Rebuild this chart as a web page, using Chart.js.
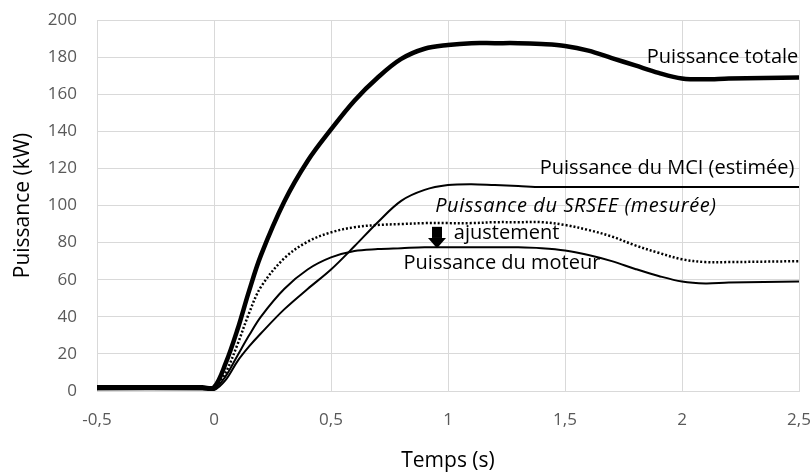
<!DOCTYPE html>
<html lang="fr">
<head>
<meta charset="utf-8">
<script src="https://cdn.jsdelivr.net/npm/chart.js@4/dist/chart.umd.min.js"></script>
<style>
  html, body { margin: 0; padding: 0; background: #fff; }
</style>
</head>
<body>
<canvas id="puissanceChart" width="812" height="475"></canvas>
<script>
// Temps (s) et puissances (kW)
const temps = [-0.5, -0.05, 0, 0.05, 0.1, 0.15, 0.2, 0.3, 0.4, 0.5, 0.6, 0.7, 0.8, 0.9, 1.0, 1.1, 1.2, 1.3, 1.4, 1.5, 1.6, 1.7, 1.8, 1.9, 2.0, 2.1, 2.2, 2.5];
const puissanceTotale = [2, 2, 2, 15, 33, 54, 73, 102, 124, 141, 156.5, 169, 179, 184.5, 186.5, 187.5, 187.5, 187.5, 187, 186, 183.5, 179.5, 175.5, 171.5, 168.5, 168, 168.5, 169];
const puissanceMCI = [1, 1, 0.5, 6, 16, 24, 31, 44, 55, 65.5, 78, 91, 102.5, 108.4, 111, 111.5, 111, 110.5, 110, 110, 110, 110, 110, 110, 110, 110, 110, 110];
const puissanceSRSEE = [1.5, 1.5, 1.5, 10, 25, 42, 56, 71.5, 80.5, 85.5, 88.3, 89.5, 90, 90.5, 90.5, 90.5, 91, 91, 91, 89.5, 86.8, 83.3, 78.5, 74.5, 71, 69.5, 69.5, 70];
const puissanceMoteur = [1, 1, 1, 8, 19, 30, 40, 55, 65.5, 72, 75.5, 76.5, 77, 77.5, 77.5, 77.5, 77.5, 77.5, 77, 75.8, 73.3, 70, 65.8, 62, 59, 58, 58.5, 59];

const xTicks = [-0.5, 0, 0.5, 1, 1.5, 2, 2.5];
const yTicks = [0, 20, 40, 60, 80, 100, 120, 140, 160, 180, 200];

// Étiquettes placées dans le graphique (coordonnées en unités des axes)
const etiquettes = [
    { texte: 'Puissance totale', t: 2.497, p: 180, align: 'right', italique: false },
    { texte: 'Puissance du MCI (estimée)', t: 2.48, p: 120, align: 'right', italique: false },
    { texte: 'Puissance du SRSEE (mesurée)', t: 0.945, p: 99.5, align: 'left', italique: true },
    { texte: 'ajustement', t: 1.025, p: 85, align: 'left', italique: false },
    { texte: 'Puissance du moteur', t: 0.81, p: 69, align: 'left', italique: false }
];

const points = serie => temps.map((t, i) => ({ x: t, y: serie[i] }));
const virgule = v => String(v).replace('.', ',');

const gris = '#d9d9d9';
const police = '"Open Sans", "Noto Sans", sans-serif';

const annotations = {
    id: 'annotations',
    afterDatasetsDraw(chart) {
        const { ctx, scales: { x, y } } = chart;
        ctx.save();
        ctx.fillStyle = '#000';
        ctx.textBaseline = 'middle';
        etiquettes.forEach(e => {
            ctx.font = (e.italique ? 'italic ' : '') + '20px ' + police;
            ctx.letterSpacing = e.italique ? '0.6px' : '0px';
            ctx.textAlign = e.align;
            ctx.fillText(e.texte, x.getPixelForValue(e.t), y.getPixelForValue(e.p));
        });

        // flèche "ajustement"
        const ax = x.getPixelForValue(0.953);
        const haut = y.getPixelForValue(88.5);
        const milieu = y.getPixelForValue(82.5);
        const bas = y.getPixelForValue(77);
        ctx.fillRect(ax - 5, haut, 10, milieu - haut);
        ctx.beginPath();
        ctx.moveTo(ax - 9, milieu);
        ctx.lineTo(ax + 9, milieu);
        ctx.lineTo(ax, bas);
        ctx.closePath();
        ctx.fill();
        ctx.restore();
    }
};

const ligne = (label, data, largeur, tirets) => ({
    label: label,
    data: points(data),
    borderColor: '#000',
    backgroundColor: '#000',
    borderWidth: largeur,
    borderDash: tirets,
    pointRadius: 0,
    fill: false,
    tension: 0.35
});

new Chart(document.getElementById('puissanceChart'), {
    type: 'line',
    data: {
        datasets: [
            ligne('Puissance du moteur', puissanceMoteur, 2, []),
            ligne('Puissance du SRSEE (mesurée)', puissanceSRSEE, 2.5, [2, 2]),
            ligne('Puissance du MCI (estimée)', puissanceMCI, 2, []),
            ligne('Puissance totale', puissanceTotale, 4.5, [])
        ]
    },
    options: {
        responsive: false,
        animation: false,
        devicePixelRatio: 1,
        layout: { padding: { left: 0, right: 13, top: 20, bottom: 0 } },
        plugins: {
            legend: { display: false },
            tooltip: { enabled: false }
        },
        scales: {
            x: {
                type: 'linear',
                min: -0.5,
                max: 2.5,
                afterBuildTicks: scale => { scale.ticks = xTicks.map(v => ({ value: v })); },
                afterFit: scale => {
                    scale.height = 84;
                    scale.paddingLeft = 0;
                    scale.paddingRight = 0;
                },
                ticks: {
                    callback: v => virgule(v),
                    color: '#595959',
                    font: { family: police, size: 17 },
                    padding: 19,
                    maxRotation: 0
                },
                grid: { color: gris, drawTicks: false },
                border: { color: gris },
                title: {
                    display: true,
                    text: 'Temps (s)',
                    color: '#000',
                    font: { family: police, size: 21 },
                    padding: { top: 0, bottom: 1 }
                }
            },
            y: {
                min: 0,
                max: 200,
                afterBuildTicks: scale => { scale.ticks = yTicks.map(v => ({ value: v })); },
                afterFit: scale => {
                    scale.width = 97;
                    scale.paddingTop = 0;
                    scale.paddingBottom = 0;
                },
                ticks: {
                    color: '#595959',
                    font: { family: police, size: 17 },
                    padding: 20
                },
                grid: { color: gris, drawTicks: false },
                border: { color: gris },
                title: {
                    display: true,
                    text: 'Puissance (kW)',
                    color: '#000',
                    font: { family: police, size: 21 },
                    padding: { top: 10, bottom: 0 }
                }
            }
        }
    },
    plugins: [annotations]
});
</script>
</body>
</html>
